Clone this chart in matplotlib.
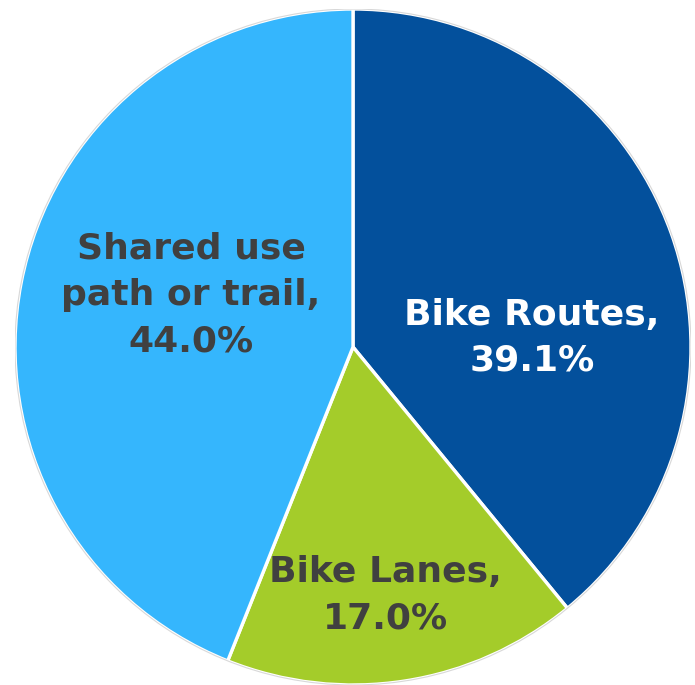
import matplotlib.pyplot as plt
from matplotlib.patches import Circle

# Share of bikeway types (clockwise from the top)
labels = ['Bike Routes', 'Bike Lanes', 'Shared use\npath or trail']
shares = [39.1, 17.0, 44.0]
colors = ['#03509c', '#a4cc2a', '#35b6fd']
text_colors = ['white', '#404040', '#404040']
label_pos = [(0.53, 0.027), (0.095, -0.734), (-0.479, 0.154)]

fig = plt.figure(figsize=(6.95, 6.85), dpi=100)
ax = fig.add_axes([15 / 695, 0, 676 / 695, 676 / 685])

wedges, _ = ax.pie(shares, colors=colors, startangle=90, counterclock=False,
                   radius=1.0, wedgeprops=dict(edgecolor='white', linewidth=2.4))

# faint outline around the whole pie
ax.add_patch(Circle((0, 0), 1.0, fill=False, edgecolor='#d8d8d8', linewidth=0.8))

for name, val, tc, (x, y) in zip(labels, shares, text_colors, label_pos):
    ax.text(x, y, f'{name},\n{val:.1f}%', ha='center', va='center',
            color=tc, fontsize=26, fontweight='bold', family='DejaVu Sans',
            linespacing=1.45)

ax.set_xlim(-1.0, 1.0)
ax.set_ylim(-1.0, 1.0)
ax.set_aspect('equal')
ax.axis('off')

fig.savefig('out.png', dpi=100)
